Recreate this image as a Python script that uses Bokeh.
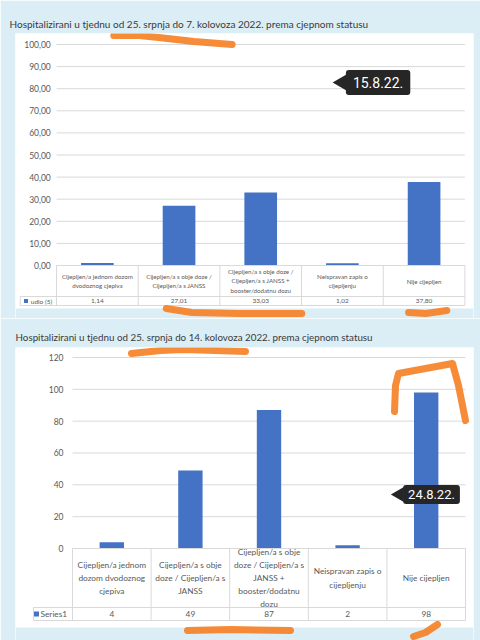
import math
from bokeh.plotting import figure
from bokeh.layouts import column
from bokeh.models import Label, BoxAnnotation
from bokeh.core.properties import value
from bokeh.embed import file_html
from bokeh.resources import INLINE

# ---------------- data ----------------
top_title = "Hospitalizirani u tjednu od 25. srpnja do 7. kolovoza 2022. prema cjepnom statusu"
top_categories = [
    "Cijepljen/a jednom dozom\ndvodoznog cjepiva",
    "Cijepljen/a s obje doze /\nCijepljen/a s JANSS",
    "Cijepljen/a s obje doze /\nCijepljen/a s JANSS +\nbooster/dodatnu dozu",
    "Neispravan zapis o\ncijepljenju",
    "Nije cijepljen",
]
top_values = [1.14, 27.01, 33.03, 1.02, 37.80]
top_series = "udio (5)"
top_yticks = [0, 10, 20, 30, 40, 50, 60, 70, 80, 90, 100]
top_stamp = "15.8.22."

bottom_title = "Hospitalizirani u tjednu od 25. srpnja do 14. kolovoza 2022. prema cjepnom statusu"
bottom_categories = [
    "Cijepljen/a jednom\ndozom dvodoznog\ncjepiva",
    "Cijepljen/a s obje\ndoze / Cijepljen/a s\nJANSS",
    "Cijepljen/a s obje\ndoze / Cijepljen/a s\nJANSS +\nbooster/dodatnu\ndozu",
    "Neispravan zapis o\ncijepljenju",
    "Nije cijepljen",
]
bottom_values = [4, 49, 87, 2, 98]
bottom_series = "Series1"
bottom_yticks = [0, 20, 40, 60, 80, 100, 120]
bottom_stamp = "24.8.22."

# ---------------- style ----------------
BLUE = "#4472C4"
PANEL = "#dbedf5"
GRID = "#d9d9d9"
TXT = "#595959"
TITLE_TXT = "#3a3a3a"
ORANGE = "#f5852d"
FONT = "Lato"
PAGE_W = 480


def build(title, cats, vals, series, ticks, tick_fmt, val_fmt, stamp, g):
    ox, oy, sx, sy = g["origin"]
    fx0, fx1, fy0, fy1 = g["frame"]

    def X(px):
        return (px - ox) / sx

    def Y(py):
        return (oy - py) / sy

    p = figure(width=PAGE_W, height=g["height"],
               x_range=(X(fx0), X(fx1)), y_range=(Y(fy1), Y(fy0)),
               x_axis_type=None, y_axis_type=None,
               toolbar_location=None, output_backend="svg",
               min_border_left=fx0, min_border_right=PAGE_W - fx1,
               min_border_top=fy0 - g["top"],
               min_border_bottom=g["top"] + g["height"] - fy1)
    p.border_fill_color = PANEL
    p.background_fill_color = "white"
    p.outline_line_color = None
    p.xgrid.visible = False
    p.ygrid.visible = False

    p.title.text = title
    p.title.text_font = FONT
    p.title.text_font_size = g["title_size"]
    p.title.text_font_style = "normal"
    p.title.text_color = TITLE_TXT
    p.title.align = "left"
    p.title.standoff = g["title_standoff"]
    p.title.offset = g["title_offset"]

    n = len(cats)
    xs = [i + 0.5 for i in range(n)]

    # bottom light-blue strip
    p.add_layout(BoxAnnotation(top=Y(g["strip_top"]), fill_color=PANEL, fill_alpha=1.0,
                               line_color=None, level="underlay"))

    # gridlines + tick labels
    p.segment(x0=[0] * len(ticks), x1=[n] * len(ticks), y0=ticks, y1=ticks,
              line_color=GRID, line_width=1)
    p.text(x=[X(g["tick_right"])] * len(ticks), y=ticks, text=[tick_fmt(t) for t in ticks],
           text_align="right", text_baseline="middle", text_font=value(FONT),
           text_font_size=g["tick_size"], text_color=TXT)

    # bars
    p.vbar(x=xs, top=vals, width=g["bar_w"], fill_color=BLUE, line_color=None)

    # data table
    r1, r2, leg = Y(g["row1"]), Y(g["row2"]), X(g["leg_left"])
    edges = list(range(n + 1))
    p.segment(x0=edges, x1=edges, y0=[0] * (n + 1), y1=[r2] * (n + 1), line_color=GRID)
    p.segment(x0=[0, leg, leg, leg], x1=[n, n, n, leg], y0=[0, r1, r2, r1], y1=[0, r1, r2, r2],
              line_color=GRID)
    p.text(x=xs, y=[r1 / 2] * n, text=cats, text_align="center", text_baseline="middle",
           text_font=value(FONT), text_font_size=g["cat_size"], text_color=TXT,
           text_line_height=g["cat_lh"])
    vmid = (r1 + r2) / 2
    p.text(x=xs, y=[vmid] * n, text=[val_fmt(v) for v in vals], text_align="center",
           text_baseline="middle", text_font=value(FONT), text_font_size=g["val_size"],
           text_color=TXT)
    p.scatter(x=[X(g["sq"])], y=[vmid], marker="square", size=g["sq_size"],
              fill_color=BLUE, line_color=None)
    p.text(x=[X(g["leg_text"])], y=[vmid], text=[series], text_align="left",
           text_baseline="middle", text_font=value(FONT), text_font_size=g["val_size"],
           text_color=TXT)

    # date stamp callout
    cx, cy, tip = g["stamp"]
    p.scatter(x=[X(tip + 6)], y=[Y(cy)], marker="triangle", angle=math.pi / 2,
              size=g["stamp_tri"], fill_color="#262626", line_color=None)
    p.add_layout(Label(x=X(cx), y=Y(cy), text=stamp, text_align="center",
                       text_baseline="middle", text_color="white",
                       text_font="Roboto", text_font_size=g["stamp_size"],
                       background_fill_color="#262626", background_fill_alpha=1.0,
                       padding=g["stamp_pad"], border_radius=3))

    # orange hand-drawn marks
    for path in g["marks"]:
        p.line(x=[X(a) for a, b in path], y=[Y(b) for a, b in path], line_color=ORANGE,
               line_width=7, line_cap="round", line_join="round", line_alpha=0.95)
    return p


top_geom = dict(
    origin=(43, 265, 85.6, 2.21), frame=(0, 480, 33, 318), top=0, height=318,
    title_size="10px", title_standoff=8, title_offset=-6,
    strip_top=308, tick_right=37, tick_size="8.5px", bar_w=0.40,
    row1=296, row2=305, leg_left=5, cat_size="6.2px", cat_lh=1.4, val_size="6.5px",
    sq=11, sq_size=4, leg_text=16,
    stamp=(380, 82, 336), stamp_tri=16, stamp_size="14px", stamp_pad=7,
    marks=[
        [(103, 35), (130, 35), (150, 37), (187, 41), (227, 44)],
        [(158, 308), (185, 312), (233, 313), (300, 313)],
        [(412, 312), (430, 313), (452, 310)],
    ],
)
bottom_geom = dict(
    origin=(72, 548, 78.6, 1.5917), frame=(15, 473, 347, 640), top=318, height=322,
    title_size="9.8px", title_standoff=9, title_offset=0,
    strip_top=627, tick_right=63, tick_size="8.5px", bar_w=0.31,
    row1=607, row2=620, leg_left=33, cat_size="8.3px", cat_lh=1.32, val_size="8.3px",
    sq=36, sq_size=5, leg_text=40,
    stamp=(431, 494, 393), stamp_tri=15, stamp_size="13px", stamp_pad=5,
    marks=[
        [(131, 353), (160, 350), (183, 349), (215, 350), (245, 351)],
        [(394, 411), (395, 385), (398, 373), (425, 368), (452, 363), (458, 385), (465, 420)],
        [(187, 630), (230, 629), (290, 630)],
        [(413, 636), (425, 632), (437, 624)],
    ],
)

p1 = build(top_title, top_categories, top_values, top_series, top_yticks,
           lambda t: f"{t:.2f}".replace(".", ","), lambda v: f"{v:.2f}".replace(".", ","),
           top_stamp, top_geom)
p2 = build(bottom_title, bottom_categories, bottom_values, bottom_series, bottom_yticks,
           lambda t: f"{t}", lambda v: f"{v}", bottom_stamp, bottom_geom)

layout = column(p1, p2, spacing=0)
open("out.html", "w").write(file_html(layout, INLINE))
